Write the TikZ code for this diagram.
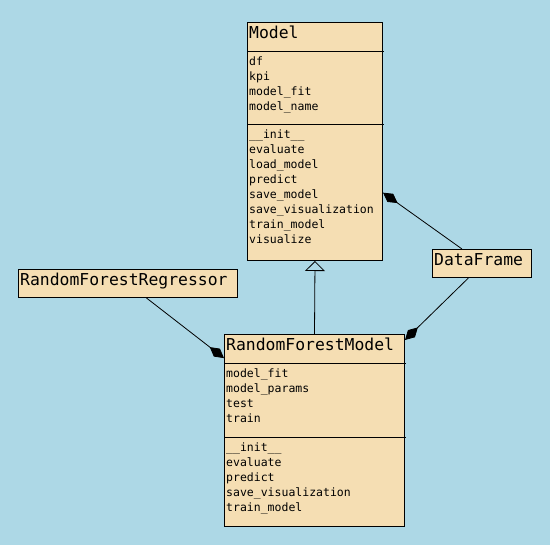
\documentclass[tikz,border=0pt]{standalone}
\usepackage{fontspec}
\newfontfamily\umlfont{DejaVu Sans Mono}
\usepackage{xcolor}
\usetikzlibrary{positioning}
\usetikzlibrary{calc}
\usetikzlibrary{arrows.meta}
\definecolor{bgblue}{HTML}{ADD8E6}
\definecolor{wheat}{HTML}{F5DEB3}

\begin{document}
\begin{tikzpicture}[x=1pt,y=-1pt,
	classbox/.style={draw,fill=wheat,line width=1pt,inner sep=0pt,anchor=north west},
	classname/.style={anchor=base west,inner sep=0pt,font=\umlfont\fontsize{16.4}{20}\selectfont},
	members/.style={anchor=north west,inner sep=0pt,align=left,font=\umlfont\fontsize{11.5}{15}\selectfont},
	compartment/.style={line width=1pt},
	composition/.style={line width=0.8pt,-{Diamond[length=18pt,width=10pt]}},
	inherits/.style={line width=0.8pt,-{Triangle[open,length=10pt,width=20pt]}}]
	\fill[bgblue] (0,0) rectangle (550,545);
	\useasboundingbox (0,0) rectangle (550,545);
	
	% Model
	\node[classbox,minimum width=135pt,minimum height=238pt] (model) at (247,22) {};
	\draw[compartment] ($(model.north west)+(0,30)$) -- ++(137,0);
	\draw[compartment] ($(model.north west)+(0,103)$) -- ++(137,0);
	\node[classname] (model name) at (249,39) {Model};
	\node[members] (model attrs) at (249,55) {\strut df\\kpi\\model\_fit\\model\_name};
	\node[members] (model ops) at (249,128) {\strut\_\_init\_\_\\evaluate\\load\_model\\predict\\save\_model\\save\_visualization\\train\_model\\visualize};
	
	% RandomForestModel
	\node[classbox,minimum width=180pt,minimum height=192pt] (forest model) at (224,334) {};
	\draw[compartment] ($(forest model.north west)+(0,30)$) -- ++(182,0);
	\draw[compartment] ($(forest model.north west)+(0,104)$) -- ++(182,0);
	\node[classname] (forest name) at (226,351) {RandomForestModel};
	\node[members] (forest attrs) at (226,367) {\strut model\_fit\\model\_params\\test\\train};
	\node[members] (forest ops) at (226,441) {\strut\_\_init\_\_\\evaluate\\predict\\save\_visualization\\train\_model};
	
	% RandomForestRegressor and DataFrame
	\node[classbox,minimum width=219pt,minimum height=28pt] (regressor) at (18,269) {};
	\node[classname] (regressor name) at (20,286) {RandomForestRegressor};
	\node[classbox,minimum width=99pt,minimum height=28pt] (data frame) at (432,249) {};
	\node[classname] (data frame name) at (434,266) {DataFrame};
	
	% Relations
	\draw[inherits] (forest model.north) -- (model.south);
	\draw[composition] ($(regressor.south west)!0.584!(regressor.south east)$) -- ($(forest model.north west)!0.125!(forest model.south west)$);
	\draw[composition] ($(data frame.north west)!0.30!(data frame.north east)$) -- ($(model.north east)!0.714!(model.south east)$);
	\draw[composition] ($(data frame.south west)!0.364!(data frame.south east)$) -- ($(forest model.north east)!0.031!(forest model.south east)$);
\end{tikzpicture}
\end{document}
